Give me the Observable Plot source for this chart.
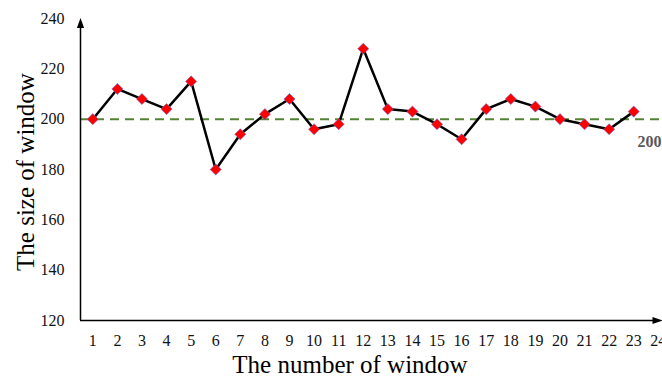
<!DOCTYPE html>
<html><head><meta charset="utf-8">
<script src="https://cdn.jsdelivr.net/npm/d3@7"></script>
<script src="https://cdn.jsdelivr.net/npm/@observablehq/plot@0.6"></script>
<style>body{margin:0;background:#fff}</style>
</head><body><div id="chart"></div>
<script>
const windows = d3.range(1, 24);
const sizes = [200, 212, 208, 204, 215, 180, 194, 202, 208, 196, 198, 228, 204, 203, 198, 192, 204, 208, 205, 200, 198, 196, 203];
const xTicks = d3.range(1, 25);
const yTicks = [120, 140, 160, 180, 200, 220, 240];
const reference = 200;
const xTitle = "The number of window";
const yTitle = "The size of window";

const data = windows.map((w, i) => ({w, s: sizes[i]}));
const xMin = 0.5, xMax = 24.17, yMin = 120, yMax = 240.2;
const font = "Liberation Serif";

const tri = {draw(ctx, l) { ctx.moveTo(0, -l); ctx.lineTo(-3.6, 0); ctx.lineTo(3.6, 0); ctx.closePath(); }};

const chart = Plot.plot({
  width: 662, height: 380,
  marginLeft: 80, marginRight: 0, marginTop: 18, marginBottom: 60,
  style: {fontFamily: font, background: "#fff"},
  x: {domain: [xMin, xMax], ticks: xTicks},
  y: {domain: [120, 240], ticks: yTicks},
  marks: [
    Plot.axisX({ticks: xTicks, tickSize: 0, tickPadding: 14, fontSize: 16, label: null, fill: "#111"}),
    Plot.axisY({ticks: yTicks, tickSize: 0, tickPadding: 16, fontSize: 16, label: null, fill: "#111"}),
    Plot.ruleY([reference], {stroke: "#548235", strokeWidth: 2, strokeDasharray: "9,6"}),
    Plot.text([reference], {x: xMax, y: d => d, text: d => String(d), dy: 23, textAnchor: "end", fontWeight: "bold", fontSize: 16, fill: "#595959", dx: -1}),
    Plot.ruleX([xMin], {y1: yMin, y2: yMax - 2, stroke: "#000", strokeWidth: 1.5}),
    Plot.ruleY([yMin], {x1: xMin, x2: xMax - 0.2, stroke: "#000", strokeWidth: 1.5}),
    Plot.vector([0], {x: xMin, y: yMax, length: 10, rotate: 0, anchor: "end", shape: tri, fill: "#000", stroke: "none"}),
    Plot.vector([0], {x: xMax, y: yMin, length: 10, rotate: 90, anchor: "end", shape: tri, fill: "#000", stroke: "none"}),
    Plot.line(data, {x: "w", y: "s", stroke: "#000", strokeWidth: 2.5}),
    Plot.dot(data, {x: "w", y: "s", symbol: "diamond2", r: 5, fill: "#ff0000", stroke: "#6a6ad0", strokeWidth: 0.6})
  ]
});
const svg = d3.select(chart);
svg.append("text").attr("x", 350).attr("y", 373).attr("text-anchor", "middle")
  .attr("font-family", font).attr("font-size", 25).attr("fill", "#000").text(xTitle);
svg.append("text").attr("transform", "translate(34,172) rotate(-90)").attr("text-anchor", "middle")
  .attr("font-family", font).attr("font-size", 25).attr("fill", "#000").text(yTitle);
document.getElementById("chart").append(chart);
</script></body></html>
